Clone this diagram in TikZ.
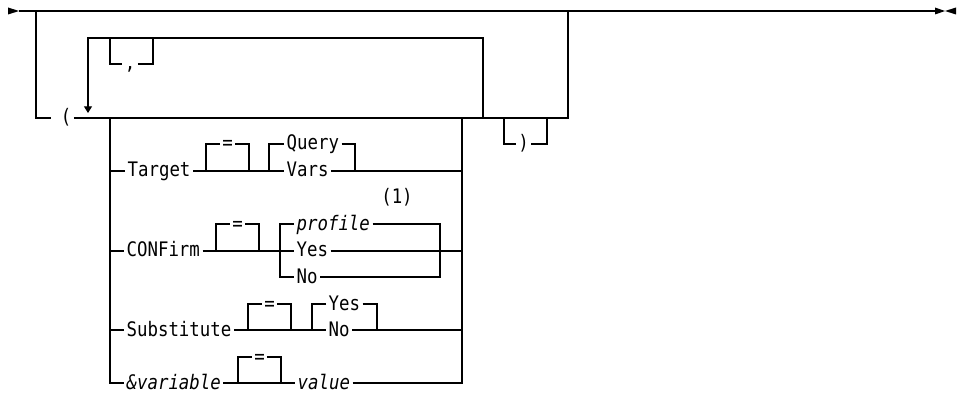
\documentclass[tikz,border=0pt]{standalone}
\usepackage{fontspec}
\newfontfamily\railfont{DejaVu Sans Mono}[FakeStretch=0.87]
\usetikzlibrary{arrows.meta}

\tikzset{
  rail/.style={line width=0.9pt},
  kw/.style={font=\railfont\fontsize{15pt}{17pt}\selectfont, inner xsep=1.5pt,
    inner ysep=0pt, text height=10.5pt, text depth=1.5pt},
  kwv/.style={kw, font=\railfont\fontsize{15pt}{17pt}\selectfont\itshape},
  kwl/.style={kw, anchor=west},
  kwlv/.style={kwv, anchor=west},
}

\begin{document}
\begin{tikzpicture}[x=0.75pt, y=-0.75pt, rail]
    \useasboundingbox (0,0) rectangle (966,395);

    % main line
    \coordinate (start) at (19,11);
    \coordinate (finish) at (935,11);
    \coordinate (optL) at (36,11);
    \coordinate (optR) at (568,11);
    \draw (start) -- (finish);
    \fill (8,7.5) -- (19,11) -- (8,14.5) -- cycle;
    \fill (935,7.5) -- (945,11) -- (935,14.5) -- cycle;
    \fill (956,7.5) -- (945,11) -- (956,14.5) -- cycle;

    % optional bracketed list
    \node[kw] (lpar) at (66,118) {(};
    \coordinate (lparIn) at (51,118);
    \coordinate (grpR) at (568,118);
    \draw (optL) |- (lparIn);
    \draw (lpar.east) -- (grpR) -- (optR);

    % repeat loop with comma
    \coordinate (repR) at (483,118);
    \coordinate (repL) at (88,38);
    \coordinate (repTip) at (88,113);
    \draw[-{Triangle[width=6pt,length=5pt]}] (repR) |- (repL) -- (repTip);
    \node[kw] (comma) at (130,64) {,};
    \coordinate (commaL) at (110,38);
    \coordinate (commaR) at (153,38);
    \draw (commaL) |- (comma.west);
    \draw (comma.east) -| (commaR);

    % closing paren
    \node[kw] (rpar) at (523.5,144) {)};
    \coordinate (rparL) at (504,118);
    \coordinate (rparR) at (547,118);
    \draw (rparL) |- (rpar.west);
    \draw (rpar.east) -| (rparR);

    % choice of options
    \coordinate (optsL) at (110,118);
    \coordinate (optsR) at (462,118);

    % "=" loops
    \foreach \l/\r/\t/\b [count=\i] in
      {206/249/144/171, 216/259/224/251, 248/291/304/330, 238/281/357/383}
    {
      \node[kw] (eq\i) at ({(\l+\r)/2},\t) {=};
      \coordinate (eqin\i) at (\l,\b);
      \coordinate (eqout\i) at (\r,\b);
      \draw (eqin\i) |- (eq\i.west);
      \draw (eq\i.east) -| (eqout\i);
    }

    % Target
    \node[kwl] (target) at (125,171) {Target};
    \node[kwl] (query) at (284,144) {Query};
    \node[kwl] (vars) at (284,171) {Vars};
    \coordinate (qvL) at (269,171);
    \coordinate (qvR) at (355,171);
    \draw (target.west -| optsL) -- (target.west);
    \draw (target.east) -- (vars.west);
    \draw (vars.east) -- (vars.east -| optsR);
    \draw (query.west) -| (qvL);
    \draw (query.east) -| (qvR);

    % CONFirm
    \node[kwl] (confirm) at (124,251) {CONFirm};
    \node[kwlv] (profile) at (294,224) {profile};
    \node[kwl] (yesC) at (294,251) {Yes};
    \node[kwl] (noC) at (294,277) {No};
    \node[kw] (note) at (397,198) {(1)};
    \coordinate (cfL) at (280,251);
    \coordinate (cfR) at (440,251);
    \draw (confirm.west -| optsL) -- (confirm.west);
    \draw (confirm.east) -- (yesC.west);
    \draw (yesC.east) -- (yesC.east -| optsR);
    \draw (profile.west) -| (cfL) |- (noC.west);
    \draw (profile.east) -| (cfR) |- (noC.east);

    % Substitute
    \node[kwl] (subst) at (124,330) {Substitute};
    \node[kwl] (yesS) at (326,304) {Yes};
    \node[kwl] (noS) at (326,330) {No};
    \coordinate (ynL) at (312,330);
    \coordinate (ynR) at (377,330);
    \draw (subst.west -| optsL) -- (subst.west);
    \draw (subst.east) -- (noS.west);
    \draw (noS.east) -- (noS.east -| optsR);
    \draw (yesS.west) -| (ynL);
    \draw (yesS.east) -| (ynR);

    % &variable
    \node[kwlv] (varname) at (124,383) {\&variable};
    \node[kwlv] (value) at (295,383) {value};
    \draw (optsL) |- (varname.west);
    \draw (varname.east) -- (value.west);
    \draw (value.east) -| (optsR);
\end{tikzpicture}
\end{document}
